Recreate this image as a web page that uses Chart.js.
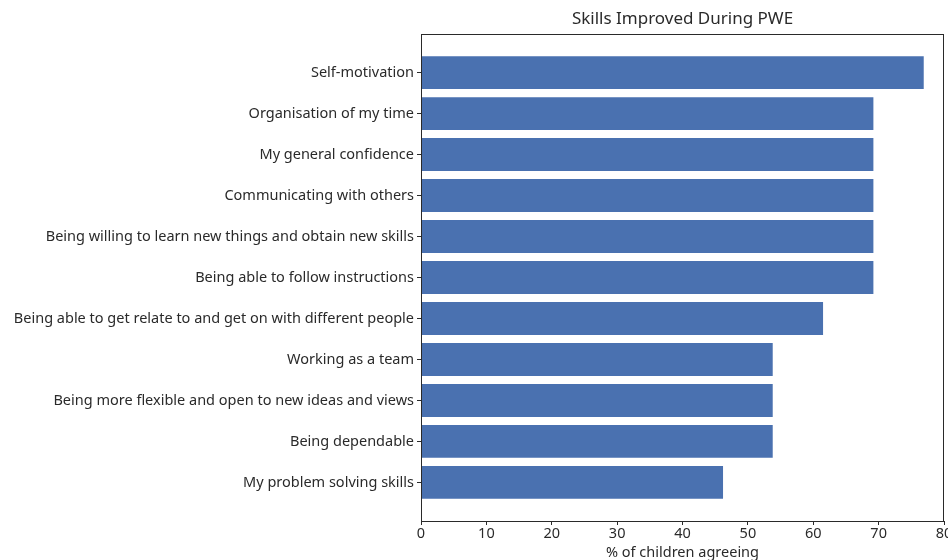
<!DOCTYPE html>
<html>
<head>
<meta charset="utf-8">
<script src="https://cdn.jsdelivr.net/npm/chart.js@4"></script>
<style>
  body { margin: 0; background: #fff; }
  #wrap { width: 948px; height: 560px; }
</style>
</head>
<body>
<div id="wrap"><canvas id="skillsChart"></canvas></div>
<script>
// Skills, top to bottom as in the original figure
const skills = [
  'Self-motivation',
  'Organisation of my time',
  'My general confidence',
  'Communicating with others',
  'Being willing to learn new things and obtain new skills',
  'Being able to follow instructions',
  'Being able to get relate to and get on with different people',
  'Working as a team',
  'Being more flexible and open to new ideas and views',
  'Being dependable',
  'My problem solving skills'
];

// % of children agreeing (looks like n out of 13 children)
const percentAgreeing = [76.9, 69.2, 69.2, 69.2, 69.2, 69.2, 61.5, 53.8, 53.8, 53.8, 46.2];

const xTicks = [0, 10, 20, 30, 40, 50, 60, 70, 80];

const chartTitle = 'Skills Improved During PWE';
const xTitle = '% of children agreeing';

const ink = '#2a2a2a';
const fontFamily = '"Noto Sans", "Open Sans", sans-serif';

// draw the box round the plot and the title centred over it
const frameAndTitle = {
  id: 'frameAndTitle',
  afterDraw(chart) {
    const { ctx, chartArea: a } = chart;
    ctx.save();
    ctx.strokeStyle = ink;
    ctx.lineWidth = 1;
    ctx.strokeRect(a.left + 0.5, a.top + 0.5, a.right - a.left - 1, a.bottom - a.top);
    ctx.fillStyle = ink;
    ctx.font = '17px ' + fontFamily;
    ctx.textAlign = 'center';
    ctx.textBaseline = 'middle';
    ctx.fillText(chartTitle, (a.left + a.right) / 2, 19);
    ctx.restore();
  }
};

const ctx = document.getElementById('skillsChart').getContext('2d');
new Chart(ctx, {
  type: 'bar',
  data: {
    datasets: [{
      data: percentAgreeing.map((v, i) => ({ x: v, y: i })),
      backgroundColor: '#4a71b0',
      borderWidth: 0,
      barPercentage: 0.8,
      categoryPercentage: 1.0
    }]
  },
  options: {
    indexAxis: 'y',
    responsive: true,
    maintainAspectRatio: false,
    animation: false,
    layout: { padding: { top: 34, right: 4, left: 0, bottom: 0 } },
    plugins: {
      legend: { display: false },
      tooltip: { enabled: false }
    },
    scales: {
      x: {
        type: 'linear',
        min: 0,
        max: 80,
        afterBuildTicks: axis => { axis.ticks = xTicks.map(v => ({ value: v })); },
        afterFit: axis => {
          axis.height = 39;
          axis.paddingLeft = 0;
          axis.paddingRight = 0;
        },
        grid: { drawOnChartArea: false, drawTicks: true, tickLength: 4, color: ink },
        border: { display: false },
        ticks: { color: ink, font: { family: fontFamily, size: 14.5, lineHeight: 1.1 }, padding: 1, maxRotation: 0 },
        title: {
          display: true,
          text: xTitle,
          color: ink,
          font: { family: fontFamily, size: 14.5, lineHeight: 1 },
          padding: { top: 0, bottom: 0 }
        }
      },
      y: {
        type: 'linear',
        reverse: true,
        offset: false,
        min: -0.94,
        max: 10.94,
        afterBuildTicks: axis => { axis.ticks = skills.map((_, i) => ({ value: i })); },
        afterFit: axis => {
          axis.width = 421;
          axis.paddingTop = 0;
          axis.paddingBottom = 0;
        },
        grid: { offset: false, drawOnChartArea: false, drawTicks: true, tickLength: 4, color: ink },
        border: { display: false },
        ticks: {
          color: ink,
          font: { family: fontFamily, size: 14.5 },
          padding: 3,
          autoSkip: false,
          callback: v => skills[v]
        }
      }
    }
  },
  plugins: [frameAndTitle]
});
</script>
</body>
</html>
